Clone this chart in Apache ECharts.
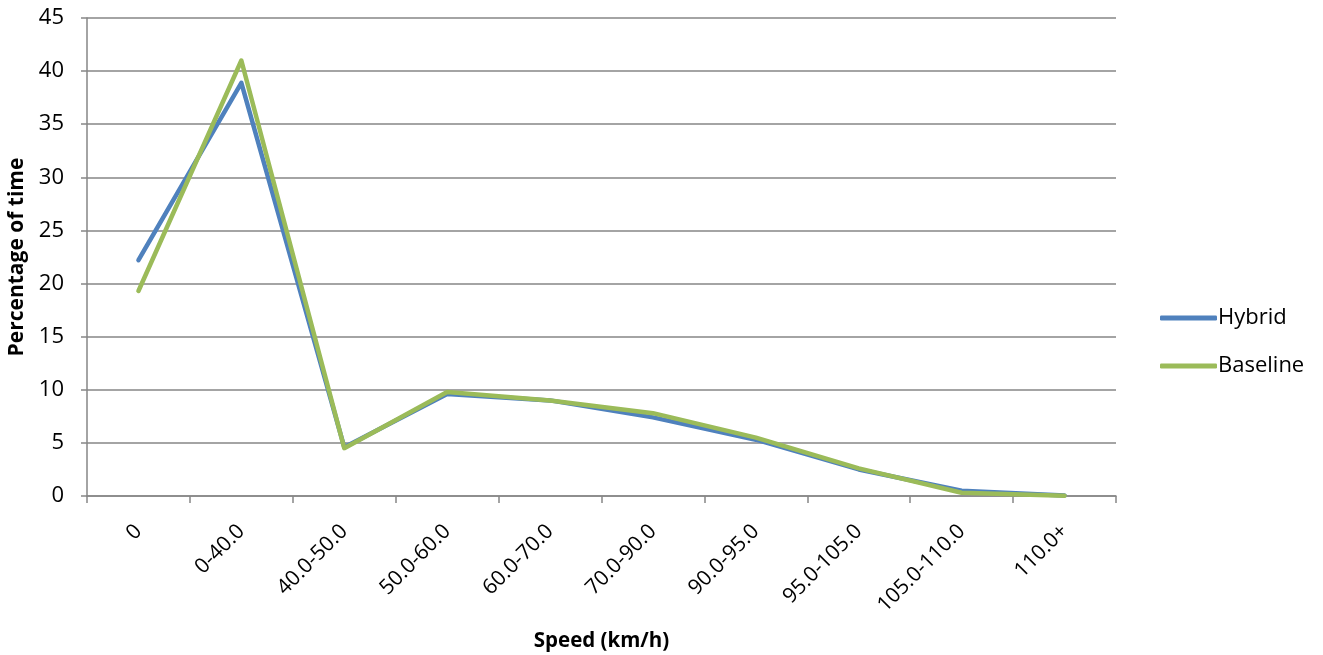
<!DOCTYPE html>
<html>
<head>
<meta charset="utf-8">
<script src="https://cdn.jsdelivr.net/npm/echarts@6/dist/echarts.min.js"></script>
<style>
html,body{margin:0;padding:0;background:#fff;}
#chart{width:1323px;height:655px;}
</style>
</head>
<body>
<div id="chart"></div>
<script>
const categories = ['0','0-40.0','40.0-50.0','50.0-60.0','60.0-70.0','70.0-90.0','90.0-95.0','95.0-105.0','105.0-110.0','110.0+'];
const hybrid = [22.2, 38.9, 4.6, 9.6, 9.0, 7.4, 5.3, 2.5, 0.5, 0.05];
const baseline = [19.3, 41.0, 4.5, 9.8, 9.0, 7.8, 5.5, 2.6, 0.3, 0.02];
const yTicks = {min: 0, max: 45, interval: 5};

const FONT = '"Open Sans", sans-serif';
const chart = echarts.init(document.getElementById('chart'));
chart.setOption({
  animation: false,
  grid: {left: 87, right: 207, top: 18, bottom: 159, containLabel: false, outerBoundsMode: 'none'},
  legend: {
    orient: 'vertical',
    left: 1155,
    top: 301,
    itemWidth: 57,
    itemHeight: 5,
    itemGap: 24,
    icon: 'roundRect',
    textStyle: {fontFamily: FONT, fontSize: 22, lineHeight: 24, color: '#000', padding: [0,0,0,-4]},
    data: ['Hybrid', 'Baseline']
  },
  xAxis: {
    type: 'category',
    data: categories,
    boundaryGap: true,
    name: 'Speed (km/h)',
    nameLocation: 'middle',
    nameGap: 135,
    nameTextStyle: {fontFamily: FONT, fontSize: 20.5, fontWeight: 'bold', color: '#000'},
    axisLine: {lineStyle: {color: '#868686', width: 1.5}},
    axisTick: {show: true, alignWithLabel: false, length: 7, lineStyle: {color: '#868686', width: 1.5}},
    axisLabel: {rotate: 45, margin: 32, fontFamily: FONT, fontSize: 21, color: '#000', interval: 0},
    splitLine: {show: false}
  },
  yAxis: {
    type: 'value',
    min: yTicks.min,
    max: yTicks.max,
    interval: yTicks.interval,
    name: 'Percentage of time',
    nameLocation: 'middle',
    nameGap: 57,
    nameRotate: 90,
    nameTextStyle: {fontFamily: FONT, fontSize: 21, fontWeight: 'bold', color: '#000'},
    axisLine: {show: true, lineStyle: {color: '#868686', width: 1.5}},
    axisTick: {show: true, length: 6, lineStyle: {color: '#868686', width: 1.5}},
    axisLabel: {margin: 23, fontFamily: FONT, fontSize: 22, color: '#000'},
    splitLine: {show: true, lineStyle: {color: '#868686', width: 1.5}}
  },
  series: [
    {
      name: 'Hybrid', type: 'line', data: hybrid,
      symbol: 'none',
      lineStyle: {color: '#4F81BD', width: 4.5, cap: 'round', join: 'round'},
      itemStyle: {color: '#4F81BD'}
    },
    {
      name: 'Baseline', type: 'line', data: baseline,
      symbol: 'none',
      lineStyle: {color: '#9BBB59', width: 4.5, cap: 'round', join: 'round'},
      itemStyle: {color: '#9BBB59'}
    }
  ]
});
</script>
</body>
</html>
